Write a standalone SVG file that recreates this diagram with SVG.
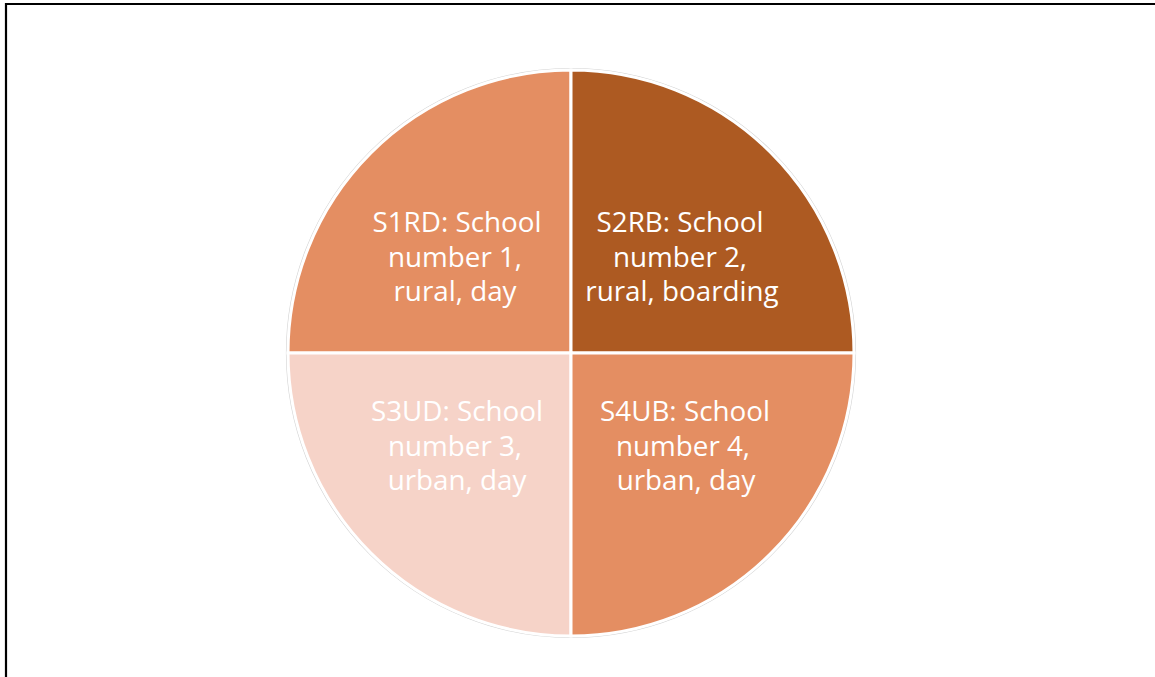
<svg xmlns="http://www.w3.org/2000/svg" width="1155" height="677" viewBox="0 0 1155 677">
<style>
.q{stroke:#ffffff;stroke-width:3}
.t{font-family:"Open Sans","Liberation Sans",sans-serif;font-size:27.8px;fill:#ffffff;text-anchor:middle}
</style>
<rect x="0" y="0" width="1155" height="677" fill="#ffffff"/>
<path d="M6 677 V4 H1155" fill="none" stroke="#000000" stroke-width="2.2"/>
<circle cx="571" cy="353" r="284.5" fill="none" stroke="#d4d4d4" stroke-width="1.2"/>
<g id="s1rd">
<path class="q" d="M571 353 L288 353 A283 283 0 0 1 571 70 Z" fill="#E48E62"/>
<text class="t" x="457" y="232">S1RD: School</text>
<text class="t" x="455" y="266.5">number 1,</text>
<text class="t" x="455" y="301">rural, day</text>
</g>
<g id="s2rb">
<path class="q" d="M571 353 L571 70 A283 283 0 0 1 854 353 Z" fill="#AD5A22"/>
<text class="t" x="680" y="232">S2RB: School</text>
<text class="t" x="680" y="266.5">number 2,</text>
<text class="t" x="682" y="301">rural, boarding</text>
</g>
<g id="s3ud">
<path class="q" d="M571 353 L571 636 A283 283 0 0 1 288 353 Z" fill="#F6D3C8"/>
<text class="t" x="457" y="421">S3UD: School</text>
<text class="t" x="455" y="455.5">number 3,</text>
<text class="t" x="457" y="490">urban, day</text>
</g>
<g id="s4ub">
<path class="q" d="M571 353 L854 353 A283 283 0 0 1 571 636 Z" fill="#E48E62"/>
<text class="t" x="685" y="421">S4UB: School</text>
<text class="t" x="683" y="455.5">number 4,</text>
<text class="t" x="686" y="490">urban, day</text>
</g>
<g id="connectors"/>
</svg>
